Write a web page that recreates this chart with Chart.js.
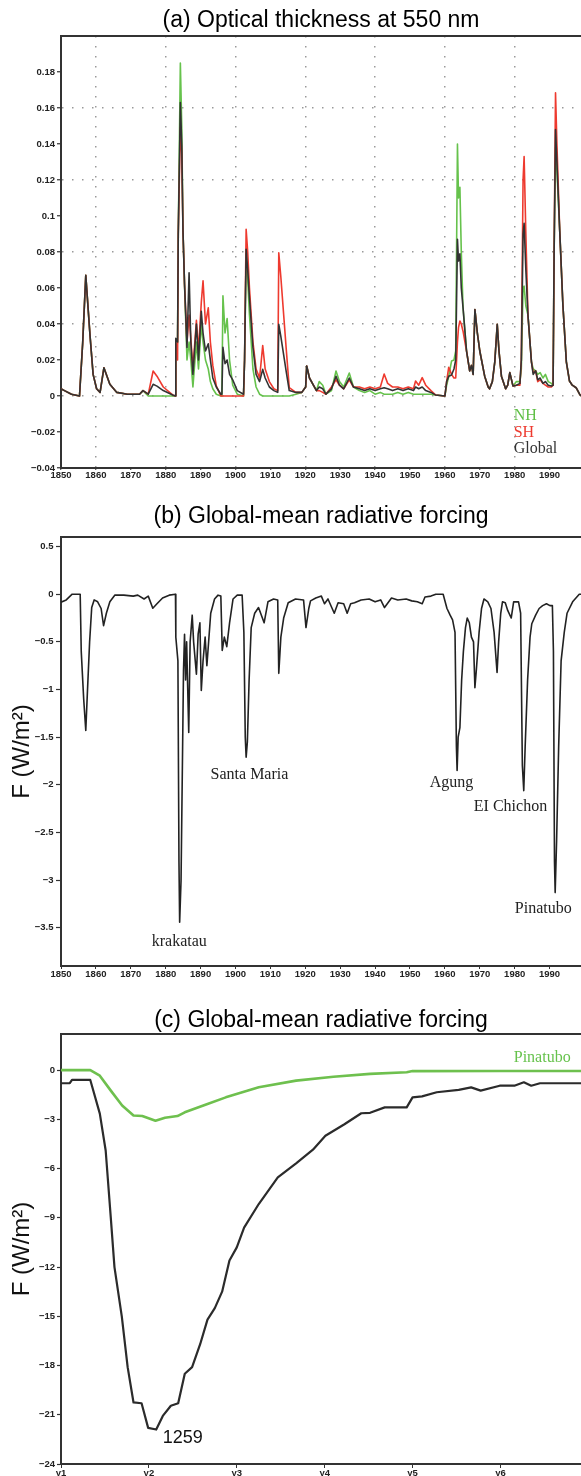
<!DOCTYPE html>
<html>
<head>
<meta charset="utf-8">
<script src="https://cdn.jsdelivr.net/npm/chart.js@4.4.0/dist/chart.umd.min.js"></script>
<style>
  html, body { margin: 0; padding: 0; background: #fff; }
  body { width: 581px; height: 1476px; position: relative; overflow: hidden; }
  canvas { position: absolute; left: 0; }
</style>
</head>
<body>
<canvas id="tauChart" width="581" height="490" style="top:0px"></canvas>
<canvas id="forcingChart" width="581" height="500" style="top:490px"></canvas>
<canvas id="pinatuboChart" width="581" height="486" style="top:990px"></canvas>
<script>
// (a) optical thickness at 550 nm
const tauYears = [
  1850.0, 1851.0, 1853.0, 1855.3, 1856.2, 1857.1, 1858.3, 1859.2, 1860.2, 1861.2,
  1862.3, 1864.0, 1866.0, 1869.0, 1872.5, 1873.5, 1875.0, 1876.4, 1877.5, 1879.3,
  1882.0, 1882.8, 1882.9, 1883.4, 1883.6, 1884.2, 1884.6, 1884.95, 1885.4, 1886.1,
  1886.7, 1887.2, 1887.8, 1888.8, 1889.4, 1890.2, 1890.7, 1891.4, 1892.2, 1892.8,
  1893.5, 1894.5, 1895.8, 1896.1, 1896.4, 1897.0, 1897.6, 1898.3, 1899.2, 1900.5,
  1902.3, 1902.6, 1903.05, 1903.5, 1904.0, 1905.0, 1905.9, 1906.9, 1907.8, 1908.5,
  1909.7, 1911.0, 1912.1, 1912.4, 1913.0, 1914.5, 1915.4, 1917.3, 1919.0, 1920.1,
  1920.4, 1921.2, 1922.2, 1923.2, 1924.0, 1925.0, 1925.9, 1927.5, 1928.8, 1929.8,
  1931.0, 1932.6, 1933.8, 1935.5, 1937.0, 1938.5, 1940.0, 1941.5, 1942.6, 1943.6,
  1945.0, 1946.5, 1948.0, 1949.5, 1951.0, 1951.6, 1952.5, 1953.5, 1954.5, 1956.0,
  1957.3, 1960.0, 1960.5, 1961.1, 1961.9, 1962.6, 1963.1, 1963.6, 1963.9, 1964.3,
  1964.7, 1965.2, 1966.2, 1967.1, 1967.6, 1968.1, 1968.6, 1969.3, 1970.0, 1971.4,
  1972.4, 1972.8, 1973.6, 1974.3, 1975.0, 1975.5, 1976.2, 1977.4, 1978.0, 1978.6,
  1979.5, 1980.5, 1981.5, 1981.9, 1982.4, 1982.7, 1983.2, 1983.8, 1984.8, 1985.3,
  1986.0, 1986.6, 1987.3, 1988.1, 1988.8, 1989.6, 1990.5, 1991.0, 1991.3, 1991.7,
  1992.1, 1992.9, 1993.8, 1994.8, 1995.7, 1996.5, 1997.6, 1998.6, 1999.0
];
const nhTau = [
  .004, .003, .001, 0, .029, .067, .034, .012, .004, .002,
  .0157, .0065, .002, .001, .001, .003, 0, 0, 0, 0,
  0, 0, .025, .03, .09, .185, .15, .092, .062, .02,
  .03, .02, .005, .03, .015, .04, .03, .02, .015, .008,
  .004, .001, 0, 0, .0556, .035, .043, .02, .006, .001,
  0, .02, .078, .065, .045, .015, .005, .001, 0, 0,
  0, 0, 0, 0, 0, 0, 0, .001, .002, .005,
  .0167, .01, .0065, .003, .008, .006, .001, .003, .0139, .008,
  .005, .0128, .005, .003, .002, .003, .001, .002, .001, .001,
  .001, .002, .001, .002, .001, .001, .001, .001, .001, .001,
  .0006, 0, .006, .011, .0194, .02, .025, .140, .11, .116,
  .08, .049, .025, .0139, .017, .012, .048, .035, .025, .011,
  .005, .004, .008, .019, .0398, .025, .011, .004, .006, .013,
  .0056, .008, .008, .015, .06, .061, .05, .045, .019, .015,
  .014, .012, .013, .01, .012, .008, .007, .006, .08, .138,
  .125, .092, .051, .019, .0083, .006, .0046, .001, 0
];
const shTau = [
  .004, .003, .001, 0, .029, .067, .034, .012, .004, .002,
  .0157, .0065, .002, .001, .001, .003, .001, .0139, .011, .005,
  .0006, 0, .03, .02, .09, .149, .135, .092, .062, .03,
  .045, .032, .015, .042, .025, .052, .064, .04, .049, .03,
  .017, .0056, 0, 0, 0, 0, 0, 0, 0, 0,
  0, .02, .0926, .08, .06, .03, .015, .01, .028, .015,
  .008, .004, .003, .0796, .066, .027, .0046, .002, .002, .005,
  .0167, .01, .0065, .003, .003, .002, .001, .005, .009, .006,
  .004, .009, .005, .005, .004, .005, .004, .005, .0122, .007,
  .005, .005, .004, .005, .004, .0083, .006, .0102, .006, .003,
  .0006, 0, .008, .016, .012, .01, .01, .03, .038, .0417,
  .04, .036, .025, .0139, .017, .012, .048, .035, .025, .011,
  .005, .004, .008, .019, .0398, .025, .011, .004, .006, .013,
  .0056, .006, .006, .02, .12, .133, .09, .045, .019, .013,
  .014, .008, .009, .007, .006, .005, .005, .006, .08, .1685,
  .14, .092, .051, .019, .0083, .006, .0046, .001, 0
];
const globalTau = [
  .004, .003, .001, 0, .029, .067, .034, .012, .004, .002,
  .0157, .0065, .002, .001, .001, .003, .001, .0065, .0055, .003,
  .0006, 0, .032, .03, .09, .163, .14, .092, .062, .027,
  .0685, .03, .012, .04, .02, .047, .035, .025, .029, .02,
  .01, .005, .001, .001, .027, .018, .02, .012, .009, .003,
  .001, .02, .0815, .07, .0546, .027, .012, .008, .0148, .01,
  .005, .003, .002, .0398, .033, .014, .003, .002, .002, .005,
  .0167, .01, .0065, .003, .005, .004, .001, .004, .011, .006,
  .004, .010, .005, .004, .003, .004, .003, .004, .0046, .004,
  .003, .004, .003, .004, .003, .005, .004, .005, .003, .002,
  .0006, 0, .008, .011, .0117, .015, .02, .087, .075, .079,
  .06, .049, .025, .0139, .017, .012, .048, .035, .025, .011,
  .005, .004, .008, .019, .0398, .025, .011, .004, .006, .013,
  .0056, .006, .007, .02, .09, .096, .07, .045, .019, .012,
  .014, .009, .01, .007, .008, .006, .0056, .006, .08, .148,
  .13, .092, .051, .019, .0083, .006, .0046, .001, 0
];
const tauTicks = [-0.04, -0.02, 0, 0.02, 0.04, 0.06, 0.08, 0.1, 0.12, 0.14, 0.16, 0.18];

// (b) global-mean radiative forcing, W/m2
const forcingYears = [
  1850, 1851.5, 1853.2, 1855.5, 1855.8, 1856.5, 1857.1, 1857.6, 1858.2, 1858.8,
  1859.5, 1860.5, 1861.5, 1862.2, 1863, 1864, 1865.4, 1868, 1870.7, 1872,
  1873.8, 1875, 1876.3, 1877.5, 1879.1, 1881, 1882.8, 1882.9, 1883.5, 1883.8,
  1884.0, 1884.4, 1884.8, 1885.1, 1885.4, 1885.7, 1886.0, 1886.6, 1887.0, 1887.6,
  1888.0, 1888.8, 1889.3, 1889.8, 1890.2, 1890.7, 1891.3, 1891.8, 1892.9, 1894,
  1895, 1895.8, 1896.2, 1896.8, 1897.5, 1898.3, 1899.3, 1900.5, 1901.9, 1902.4,
  1902.8, 1903.05, 1903.4, 1903.9, 1904.5, 1905.5, 1906.6, 1907.6, 1908.2, 1909.3,
  1910.9, 1912.1, 1912.4, 1913.0, 1913.8, 1915.1, 1917.2, 1919.5, 1920.2, 1921.0,
  1921.5, 1923, 1924.6, 1925.5, 1926.5, 1928.3, 1929.4, 1931, 1932.0, 1933,
  1934.1, 1936, 1938.3, 1940, 1941.6, 1942.7, 1944.7, 1946.5, 1948.9, 1950.5,
  1952.1, 1953.5, 1954.3, 1956, 1957.4, 1959.5, 1960.6, 1961.5, 1962.2, 1962.9,
  1963.3, 1963.5, 1963.8, 1964.3, 1964.8, 1965.3, 1965.9, 1966.4, 1967.0, 1967.6,
  1968.2, 1968.6, 1969.0, 1969.8, 1970.5, 1971.2, 1972.3, 1973.2, 1974.1, 1974.95,
  1975.4, 1976.0, 1976.5, 1977.3, 1978.0, 1979.0, 1979.7, 1981.1, 1981.7, 1982.2,
  1982.6, 1983.0, 1983.7, 1984.4, 1984.9, 1986, 1987.0, 1988, 1989.1, 1990.1,
  1990.8, 1991.1, 1991.4, 1991.6, 1992.0, 1992.6, 1993.3, 1994.2, 1995.0, 1996.6,
  1998.5, 1999
];
const globalForcing = [
  -0.084, -0.06, 0, 0, -0.6, -1.1, -1.43, -1.0, -0.5, -0.14,
  -0.06, -0.08, -0.15, -0.33, -0.2, -0.08, -0.01, -0.01, -0.02, -0.01,
  -0.05, -0.02, -0.147, -0.1, -0.04, -0.01, 0, -0.45, -0.7, -2.8,
  -3.44, -3.0, -1.75, -0.8, -0.42, -0.9, -0.5, -1.45, -0.5, -0.22,
  -0.5, -0.84, -0.42, -0.3, -1.01, -0.7, -0.45, -0.75, -0.2, -0.05,
  -0.01, -0.02, -0.59, -0.45, -0.55, -0.3, -0.05, -0.01, -0.01, -0.4,
  -1.5, -1.71, -1.55, -0.9, -0.35, -0.2, -0.14, -0.24, -0.3, -0.08,
  -0.05, -0.06, -0.83, -0.45, -0.25, -0.09, -0.05, -0.06, -0.35, -0.15,
  -0.07, -0.04, -0.02, -0.1, -0.05, -0.2, -0.09, -0.1, -0.2, -0.1,
  -0.09, -0.06, -0.05, -0.08, -0.06, -0.14, -0.04, -0.06, -0.05, -0.07,
  -0.08, -0.1, -0.03, -0.02, 0, 0, -0.15, -0.22, -0.27, -0.4,
  -1.6, -1.85, -1.5, -1.4, -0.9, -0.6, -0.35, -0.25, -0.3, -0.45,
  -0.5, -0.98, -0.8, -0.4, -0.15, -0.05, -0.08, -0.15, -0.4, -0.82,
  -0.5, -0.2, -0.08, -0.09, -0.17, -0.25, -0.08, -0.08, -0.2, -1.8,
  -2.06, -1.6, -0.9, -0.45, -0.31, -0.22, -0.15, -0.12, -0.1, -0.12,
  -0.12, -0.6, -2.8, -3.13, -2.6, -1.6, -0.7, -0.4, -0.2, -0.08,
  0, 0
];
const forcingTicks = [-3.5, -3, -2.5, -2, -1.5, -1, -0.5, 0, 0.5];

// (c) forcing after the 1259 eruption and after Pinatubo, months from start
const months1259 = [
  0, 1.2, 1.5, 4.0, 5.3, 6.1, 6.8, 7.3, 8.3, 9.1,
  9.9, 11.0, 11.9, 13.0, 13.9, 15.0, 16.0, 16.9, 17.9, 19.0,
  20.0, 21.0, 22.0, 23.0, 24.0, 25.0, 27.0, 29.6, 32.1, 34.4,
  36.1, 38.7, 41.0, 42.2, 44.2, 47.2, 48.0, 49.3, 51.3, 54.3,
  56.0, 57.3, 59.9, 61.9, 63.2, 64.2, 65.4, 71
];
const forcing1259 = [
  -0.8, -0.8, -0.6, -0.6, -2.65, -4.9, -9.0, -12.0, -15.0, -18.1,
  -20.25, -20.3, -21.8, -21.9, -21.07, -20.45, -20.3, -18.5, -18.1, -16.7,
  -15.2, -14.5, -13.5, -11.6, -10.8, -9.6, -8.16, -6.54, -5.68, -4.85,
  -4.0, -3.3, -2.63, -2.6, -2.27, -2.27, -1.66, -1.6, -1.35, -1.2,
  -1.05, -1.25, -0.95, -0.95, -0.74, -0.95, -0.8, -0.8
];
const monthsPinatubo = [
  0, 4.0, 5.3, 6.8, 8.35, 9.9, 11.1, 12.9, 14.2, 15.9,
  16.9, 20.0, 22.5, 27, 32.1, 37.2, 42.2, 47.2, 48, 60, 71
];
const forcingPinatubo = [
  0, 0, -0.34, -1.25, -2.16, -2.77, -2.8, -3.08, -2.9, -2.8,
  -2.57, -2.06, -1.66, -1.05, -0.64, -0.4, -0.23, -0.13, -0.06, -0.05, -0.05
];
const eruptTicks = [-24, -21, -18, -15, -12, -9, -6, -3, 0];
const yearLabels = ['y1', 'y2', 'y3', 'y4', 'y5', 'y6'];

Chart.defaults.font.family = "'Liberation Sans', Arial, sans-serif";
Chart.defaults.color = '#222';

const tickFont = { size: 9.5, weight: 'bold' };
const frameColor = '#333';
const serif = "16px 'Liberation Serif', 'Times New Roman', serif";

function points(xs, ys) {
  return xs.map((x, i) => ({ x: x, y: ys[i] }));
}

function fmt(v, digits) {
  return String(+v.toFixed(digits)).replace('-', '\u2212');
}

function fixedTicks(values) {
  return s => { s.ticks = values.map(v => ({ value: v })); };
}

// titles, top frame line and text labels placed in data coordinates
const decor = {
  id: 'decor',
  afterDraw(chart, args, opts) {
    const { ctx, chartArea: a, scales } = chart;
    ctx.save();
    ctx.strokeStyle = frameColor;
    ctx.lineWidth = 2;
    ctx.beginPath();
    ctx.moveTo(a.left - 1, a.top);
    ctx.lineTo(a.right, a.top);
    ctx.stroke();

    ctx.fillStyle = '#000';
    ctx.font = "23px 'Liberation Sans', Arial, sans-serif";
    ctx.textAlign = 'center';
    ctx.textBaseline = 'alphabetic';
    ctx.fillText(opts.title, (a.left + a.right) / 2, a.top - opts.titleGap);

    (opts.notes || []).forEach(n => {
      ctx.font = n.font;
      ctx.fillStyle = n.color;
      ctx.textAlign = n.align || 'center';
      ctx.textBaseline = 'middle';
      ctx.fillText(n.text, scales.x.getPixelForValue(n.x), scales.y.getPixelForValue(n.y));
    });
    ctx.restore();
  }
};

function baseOptions() {
  return {
    responsive: false,
    animation: false,
    devicePixelRatio: 1,
    events: [],
    elements: {
      point: { radius: 0 },
      line: { tension: 0, borderJoinStyle: 'round', fill: false }
    },
    plugins: {
      legend: { display: false },
      tooltip: { enabled: false }
    }
  };
}

function yTitle() {
  return {
    display: true,
    text: 'F (W/m\u00b2)',
    color: '#111',
    font: { size: 24, weight: 'normal' },
    padding: { top: 8, bottom: 0 }
  };
}

// (a)
const tauOpts = baseOptions();
tauOpts.layout = { padding: { top: 36, left: 0, right: 0, bottom: 0 } };
tauOpts.plugins.decor = {
  title: '(a) Optical thickness at 550 nm',
  titleGap: 9.2,
  notes: [
    { text: 'NH', x: 1979.7, y: -0.0111, color: '#5fbf45', font: serif, align: 'left' },
    { text: 'SH', x: 1979.7, y: -0.0204, color: '#ee3a2f', font: serif, align: 'left' },
    { text: 'Global', x: 1979.7, y: -0.0296, color: '#333', font: serif, align: 'left' }
  ]
};
tauOpts.scales = {
  x: {
    type: 'linear', min: 1850, max: 1999,
    afterFit: s => { s.height = 22; },
    ticks: { stepSize: 10, includeBounds: false, autoSkip: false, maxRotation: 0, padding: 0,
             font: tickFont, color: '#222', callback: v => String(v) },
    grid: {
      color: c => (c.tick && (c.tick.value - 1860) % 20 === 0) ? '#9a9a9a' : 'rgba(0,0,0,0)',
      lineWidth: 1.5, tickColor: frameColor, tickLength: 2, tickWidth: 1, tickBorderDash: []
    },
    border: { color: frameColor, width: 2, dash: [1.5, 8.5] }
  },
  y: {
    min: -0.04, max: 0.2,
    afterFit: s => { s.width = 61; },
    afterBuildTicks: fixedTicks(tauTicks),
    ticks: { padding: 2, font: tickFont, color: '#222', callback: v => fmt(v, 2) },
    grid: {
      color: c => {
        if (!c.tick) return 'rgba(0,0,0,0)';
        const k = Math.round(c.tick.value * 100);
        return (k % 4 === 0 && k > -4) ? '#9a9a9a' : 'rgba(0,0,0,0)';
      },
      lineWidth: 1.5, tickColor: frameColor, tickLength: 4, tickWidth: 1.2, tickBorderDash: []
    },
    border: { color: frameColor, width: 2, dash: [1.5, 8.5] }
  }
};

new Chart(document.getElementById('tauChart'), {
  type: 'line',
  data: {
    datasets: [
      { label: 'Global', data: points(tauYears, globalTau), borderColor: '#333333', borderWidth: 1.6 },
      { label: 'SH', data: points(tauYears, shTau), borderColor: '#ee3a2f', borderWidth: 1.6 },
      { label: 'NH', data: points(tauYears, nhTau), borderColor: '#66c24c', borderWidth: 1.6 }
    ]
  },
  options: tauOpts,
  plugins: [decor]
});

// (b)
const forcingOpts = baseOptions();
forcingOpts.layout = { padding: { top: 47, left: 0, right: 0, bottom: 0 } };
forcingOpts.plugins.decor = {
  title: '(b) Global-mean radiative forcing',
  titleGap: 13.6,
  notes: [
    { text: 'krakatau', x: 1883.9, y: -3.645, color: '#222', font: serif },
    { text: 'Santa Maria', x: 1904.0, y: -1.895, color: '#222', font: serif },
    { text: 'Agung', x: 1961.9, y: -1.983, color: '#222', font: serif },
    { text: 'EI Chichon', x: 1978.8, y: -2.235, color: '#222', font: serif },
    { text: 'Pinatubo', x: 1988.2, y: -3.30, color: '#222', font: serif }
  ]
};
forcingOpts.scales = {
  x: {
    type: 'linear', min: 1850, max: 1999,
    afterFit: s => { s.height = 24; },
    ticks: { stepSize: 10, includeBounds: false, autoSkip: false, maxRotation: 0, padding: 0,
             font: tickFont, color: '#222', callback: v => String(v) },
    grid: { drawOnChartArea: false, tickColor: frameColor, tickLength: 3, tickWidth: 1 },
    border: { color: frameColor, width: 2 }
  },
  y: {
    min: -3.9, max: 0.6,
    afterFit: s => { s.width = 61; },
    afterBuildTicks: fixedTicks(forcingTicks),
    title: yTitle(),
    ticks: { padding: 2.5, font: tickFont, color: '#222', callback: v => fmt(v, 1) },
    grid: { drawOnChartArea: false, tickColor: frameColor, tickLength: 5, tickWidth: 1.2 },
    border: { color: frameColor, width: 2 }
  }
};

new Chart(document.getElementById('forcingChart'), {
  type: 'line',
  data: {
    datasets: [
      { label: 'Global', data: points(forcingYears, globalForcing), borderColor: '#222222', borderWidth: 1.6 }
    ]
  },
  options: forcingOpts,
  plugins: [decor]
});

// (c)
const eruptOpts = baseOptions();
eruptOpts.layout = { padding: { top: 44, left: 0, right: 0, bottom: 0 } };
eruptOpts.plugins.decor = {
  title: '(c) Global-mean radiative forcing',
  titleGap: 7.1,
  notes: [
    { text: 'Pinatubo', x: 65.7, y: 0.78, color: '#66c24c', font: serif },
    { text: '1259', x: 13.9, y: -22.4, color: '#111', font: "18px 'Liberation Sans', Arial, sans-serif", align: 'left' }
  ]
};
eruptOpts.scales = {
  x: {
    type: 'linear', min: 0, max: 71,
    afterFit: s => { s.height = 12; },
    ticks: { stepSize: 12, includeBounds: false, autoSkip: false, maxRotation: 0, padding: 0,
             font: tickFont, color: '#222', callback: v => yearLabels[Math.round(v / 12)] },
    grid: { drawOnChartArea: false, tickColor: frameColor, tickLength: 4, tickWidth: 1 },
    border: { color: frameColor, width: 2 }
  },
  y: {
    min: -24, max: 2.2,
    afterFit: s => { s.width = 61; },
    afterBuildTicks: fixedTicks(eruptTicks),
    title: yTitle(),
    ticks: { padding: 2, font: tickFont, color: '#222', callback: v => fmt(v, 0) },
    grid: { drawOnChartArea: false, tickColor: frameColor, tickLength: 4, tickWidth: 1.2 },
    border: { color: frameColor, width: 2 }
  }
};

new Chart(document.getElementById('pinatuboChart'), {
  type: 'line',
  data: {
    datasets: [
      { label: '1259', data: points(months1259, forcing1259), borderColor: '#2b2b2b', borderWidth: 2.2 },
      { label: 'Pinatubo', data: points(monthsPinatubo, forcingPinatubo), borderColor: '#6ec04e', borderWidth: 2.6 }
    ]
  },
  options: eruptOpts,
  plugins: [decor]
});
</script>
</body>
</html>
